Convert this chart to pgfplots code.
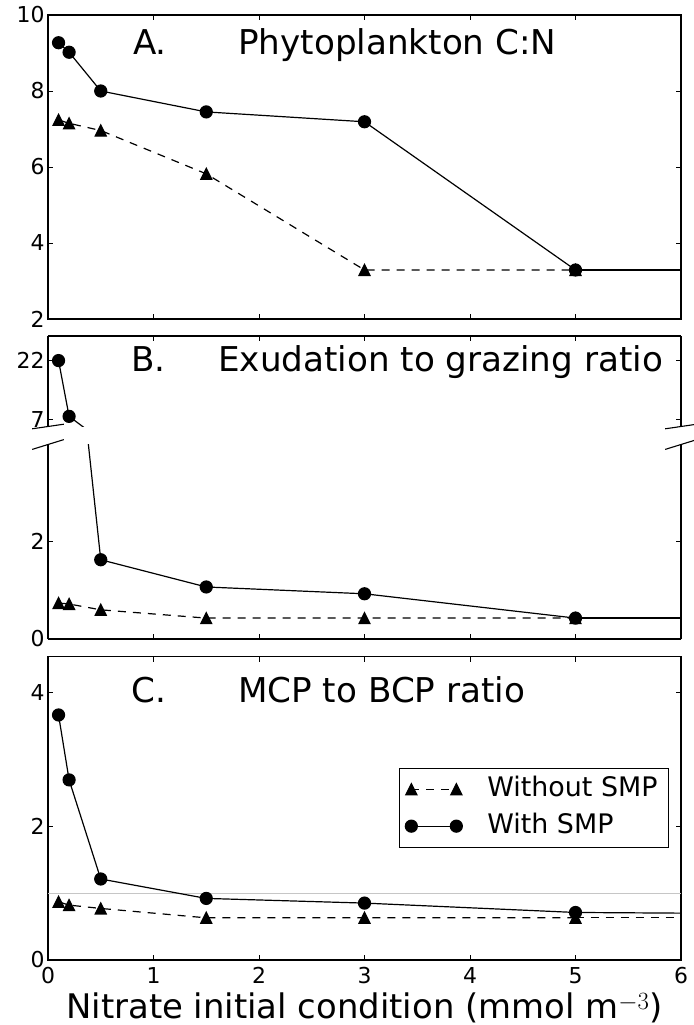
\documentclass[border=0pt]{standalone}
\usepackage{pgfplots}
\pgfplotsset{compat=1.18}
\usepackage{fontspec}
\setmainfont{DejaVu Sans}

% isosceles triangle marker (as wide as it is tall)
\pgfdeclareplotmark{mtri}{%
  \pgfpathmoveto{\pgfqpoint{0pt}{\pgfplotmarksize}}%
  \pgfpathlineto{\pgfqpoint{-\pgfplotmarksize}{-\pgfplotmarksize}}%
  \pgfpathlineto{\pgfqpoint{\pgfplotmarksize}{-\pgfplotmarksize}}%
  \pgfpathclose
  \pgfusepathqfillstroke}

\newcommand{\ticksize}{\fontsize{22}{22}\selectfont}

\pgfplotsset{
  panel/.style={
    scale only axis, width=633bp, xmin=0, xmax=6,
    anchor=north west, tick align=inside, major tick length=5bp,
    axis line style={black, line width=1.1bp},
    every tick/.style={black, line width=0.9bp},
    /pgf/number format/assume math mode=true,
    xticklabel={\ticksize\pgfmathprintnumber{\tick}},
    yticklabel={\ticksize\pgfmathprintnumber{\tick}},
    xticklabel style={yshift=-4bp},
    xtick={0,1,2,3,4,5,6}, clip=true,
  },
  withsmp/.style={black, line width=1.2bp, mark=*, mark size=6bp,
    mark options={solid}},
  withoutsmp/.style={black, line width=1.2bp, dash pattern=on 8bp off 7bp,
    mark=mtri, mark size=5.5bp, mark options={solid}},
  % continuation of a series to the right edge, without markers
  tail/.style={#1, no marks, forget plot},
}

\begin{document}
\begin{tikzpicture}
\useasboundingbox (0,0) rectangle (694bp,-1025bp);

% ---------------- A. Phytoplankton C:N ----------------
\begin{axis}[panel, at={(48bp,-15bp)}, height=304bp,
  ymin=2, ymax=10, ytick={2,4,6,8,10}, xticklabels={}]
\addplot[withoutsmp] coordinates {(0.1,7.24)(0.2,7.15)(0.5,6.96)(1.5,5.82)(3,3.29)(5,3.29)};
\addplot[tail=withoutsmp] coordinates {(5,3.29)(6,3.29)};
\addplot[withsmp] coordinates {(0.1,9.27)(0.2,9.02)(0.5,8.00)(1.5,7.45)(3,7.19)(5,3.29)};
\addplot[tail=withsmp] coordinates {(5,3.29)(6,3.29)};
\end{axis}

% ---------------- B. Exudation to grazing ratio (broken axis) ----------------
\begin{axis}[panel, at={(48bp,-336bp)}, height=90.5bp,
  axis x line*=top, x axis line style={-}, tick align=inside,
  ymin=5.1, ymax=28.3, ytick={7,22}, xticklabels={}]
\addplot[withoutsmp] coordinates {(0.1,0.74)(0.2,0.72)(0.5,0.60)(1.5,0.43)(3,0.43)(5,0.43)};
\addplot[withsmp] coordinates {(0.1,22)(0.2,7.7)(0.5,1.63)(1.5,1.07)(3,0.93)(5,0.43)};
\end{axis}
\begin{axis}[panel, at={(48bp,-444.5bp)}, height=194.5bp,
  axis x line*=bottom, x axis line style={-}, tick align=inside,
  ymin=0, ymax=4, ytick={0,2}, xticklabels={}]
\addplot[withoutsmp] coordinates {(0.1,0.74)(0.2,0.72)(0.5,0.60)(1.5,0.43)(3,0.43)(5,0.43)};
\addplot[tail=withoutsmp] coordinates {(5,0.43)(6,0.43)};
\addplot[withsmp] coordinates {(0.1,22)(0.2,7.7)(0.5,1.63)(1.5,1.07)(3,0.93)(5,0.43)};
\addplot[tail=withsmp] coordinates {(5,0.43)(6,0.43)};
\end{axis}
% break marks on both spines
\begin{scope}[black, line width=1.1bp]
  \draw (32.2bp,-428.8bp) -- (63.8bp,-424.2bp);
  \draw (665.2bp,-428.8bp) -- (696.8bp,-424.2bp);
  \draw (32.2bp,-449.4bp) -- (63.8bp,-439.6bp);
  \draw (665.2bp,-449.4bp) -- (696.8bp,-439.6bp);
\end{scope}

% ---------------- C. MCP to BCP ratio ----------------
\begin{axis}[panel, at={(48bp,-656.7bp)}, height=303.3bp,
  ymin=0, ymax=4.53, ytick={0,2,4},
  xlabel={Nitrate initial condition (mmol m$^{-3}$)},
  xlabel style={at={(axis description cs:0.5,0)}, anchor=base, yshift=-58bp,
    font=\fontsize{34}{34}\selectfont},
  legend style={at={(0.981,0.634)}, anchor=north east, draw=black,
    line width=0.9bp, inner xsep=6bp, inner ysep=5bp,
    font=\fontsize{27}{27}\selectfont, row sep=5bp, column sep=20bp,
    nodes={inner xsep=5bp, inner ysep=3bp, text height=20bp, text depth=6bp}},
  legend cell align=left,
  legend image code/.code={\draw[#1] plot coordinates {(0bp,0bp)(45bp,0bp)};}]
\addplot[gray!45, line width=1bp, forget plot] coordinates {(0,1)(6,1)};
\addplot[withoutsmp] coordinates {(0.1,0.87)(0.2,0.82)(0.5,0.77)(1.5,0.63)(3,0.63)(5,0.63)};
\addlegendentry{Without SMP}
\addplot[withsmp] coordinates {(0.1,3.66)(0.2,2.69)(0.5,1.21)(1.5,0.92)(3,0.85)(5,0.71)};
\addlegendentry{With SMP}
\addplot[tail=withoutsmp] coordinates {(5,0.63)(6,0.63)};
\addplot[tail=withsmp] coordinates {(5,0.71)(6,0.70)};
\end{axis}

% panel titles
\begin{scope}[font=\fontsize{34.3}{34.3}\selectfont]
  \node[anchor=base west, inner sep=0pt] at (133bp,-54.3bp) {A.};
  \node[anchor=base west, inner sep=0pt] at (238bp,-54.3bp) {Phytoplankton C:N};
  \node[anchor=base west, inner sep=0pt] at (131bp,-371.7bp) {B.};
  \node[anchor=base west, inner sep=0pt] at (218bp,-371.7bp) {Exudation to grazing ratio};
  \node[anchor=base west, inner sep=0pt] at (131bp,-702.5bp) {C.};
  \node[anchor=base west, inner sep=0pt] at (238bp,-702.5bp) {MCP to BCP ratio};
\end{scope}
\end{tikzpicture}
\end{document}
